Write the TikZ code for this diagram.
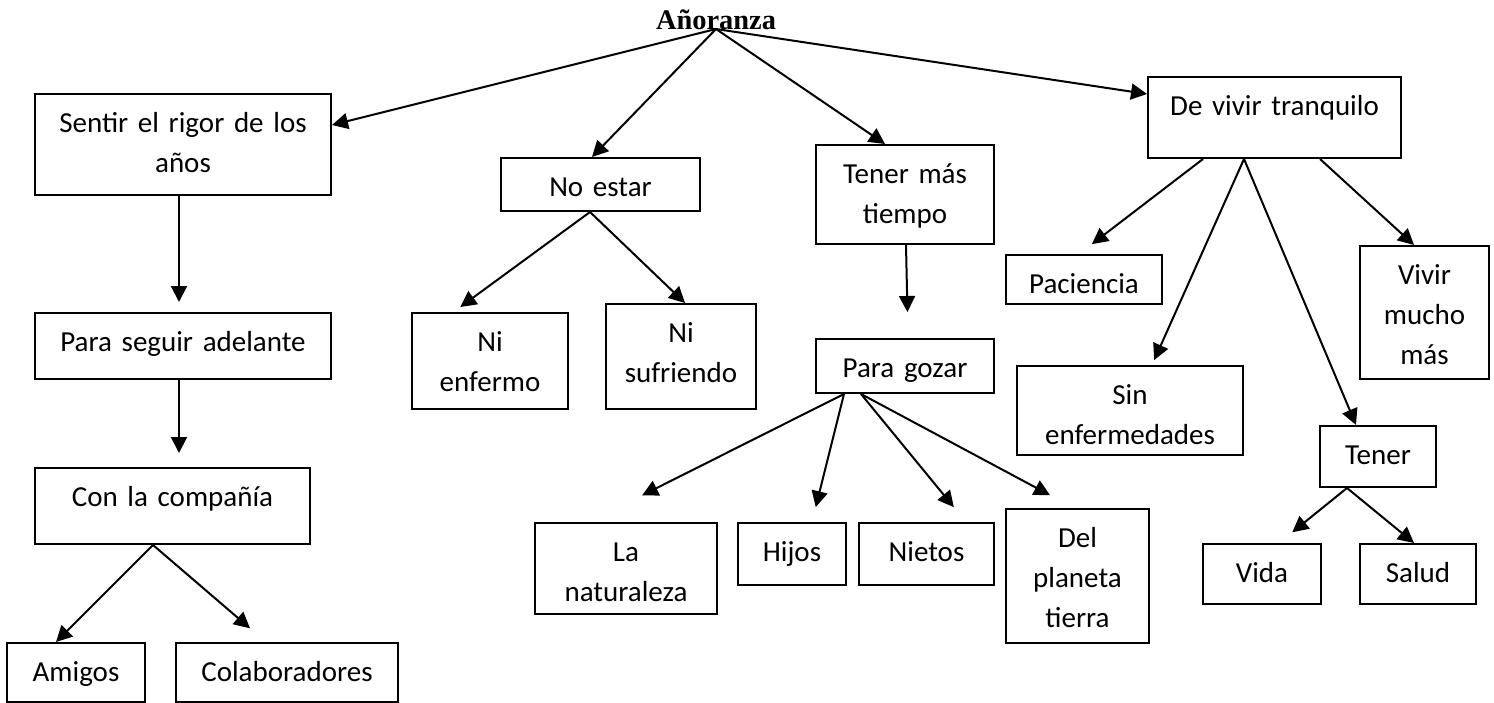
\documentclass[tikz,border=0pt]{standalone}
\usepackage{fontspec}
\setmainfont{Carlito}
\newfontfamily\ttlserif{Liberation Serif}
\usetikzlibrary{arrows.meta,calc}
\newcommand{\bxfont}{\fontsize{14.5pt}{20pt}\selectfont}
\newcommand{\ttlfont}{\ttlserif\bfseries\fontsize{14.2pt}{17pt}\selectfont}
\tikzset{
  bx/.style = {draw, rectangle, inner sep=0pt, anchor=north west,
    align=center, text height=19pt, font=\bxfont},% box, text hung from the top
  sz/.code 2 args = {\pgfmathsetlengthmacro\bxw{#1*0.5pt}%
    \pgfmathsetlengthmacro\bxd{#2*0.5pt-19pt}%
    \pgfkeysalso{/tikz/text width/.expanded=\bxw,
      /tikz/text depth/.expanded=\bxd}},% box size in px
  ttl/.style = {font=\ttlfont, inner sep=0pt, anchor=base}% title
}
\begin{document}
\begin{tikzpicture}[x=0.5pt,y=-0.5pt,line width=1pt,->,>={Triangle[length=8pt,width=8pt]}]
\useasboundingbox (0,0) rectangle (1494,702);
\node [ttl] (root) at (716,29) {Añoranza};
% first row
\node [bx, sz={296}{101}] (sentir) at (34,93) {Sentir el rigor de los\\años};
\node [bx, sz={199}{53}] (noestar) at (500,157) {No estar};
\node [bx, sz={178}{99}] (tenermas) at (815,144) {Tener más\\tiempo};
\node [bx, sz={253}{81}] (devivir) at (1147,76) {De vivir tranquilo};
% left column
\node [bx, sz={296}{66}] (paraseguir) at (34,312) {Para seguir adelante};
\node [bx, sz={275}{76}] (con) at (34,467) {Con la compañía};
\node [bx, sz={138}{59}] (amigos) at (6,642) {Amigos};
\node [bx, sz={222}{59}] (colab) at (175,642) {Colaboradores};
% no estar
\node [bx, sz={156}{96}] (nienf) at (411,312) {Ni\\enfermo};
\node [bx, sz={150}{105}] (nisuf) at (605,303) {Ni\\sufriendo};
% tener mas tiempo
\node [bx, sz={178}{54}] (paragozar) at (815,338) {Para gozar};
\node [bx, sz={182}{91}] (lanat) at (534,522) {La\\naturaleza};
\node [bx, sz={108}{62}] (hijos) at (737,522) {Hijos};
\node [bx, sz={135}{62}] (nietos) at (858,522) {Nietos};
\node [bx, sz={143}{134}] (delplaneta) at (1005,508) {Del\\planeta\\tierra};
% de vivir tranquilo
\node [bx, sz={156}{49}] (paciencia) at (1005,254) {Paciencia};
\node [bx, sz={226}{89}] (sinenf) at (1016,365) {Sin\\enfermedades};
\node [bx, sz={129}{133}] (vivir) at (1359,245) {Vivir\\mucho\\más};
\node [bx, sz={116}{61}] (tener) at (1319,425) {Tener};
\node [bx, sz={118}{60}] (vida) at (1202,543) {Vida};
\node [bx, sz={116}{60}] (salud) at (1359,543) {Salud};

\draw (root.base) -- ($(sentir.east)+(0,-19.5)$);
\draw (root.base) -- ($(noestar.north)+(-8.5,0)$);
\draw (root.base) -- ($(tenermas.north)+(-20,0)$);
\draw (root.base) -- ($(devivir.west)+(0,-23.5)$);

\draw [shorten >=5pt] ($(sentir.south)+(-4,0)$) -- ($(paraseguir.north)+(-4,0)$);
\draw [shorten >=7pt] ($(paraseguir.south)+(-4,0)$) -- ($(con.north)+(6.5,0)$);
\draw ($(con.south)+(-19.5,0)$) -- ($(amigos.north)+(-20,0)$);
\draw [shorten >=10.5pt] ($(con.south)+(-19.5,0)$) -- ($(colab.north)+(-21,0)$);

\draw [shorten >=4.2pt] ($(noestar.south)+(-10.5,0)$) -- ($(nienf.north)+(-36.5,0)$);
\draw ($(noestar.south)+(-10.5,0)$) -- ($(nisuf.north)+(4,0)$);

\draw [shorten >=13pt] ($(tenermas.south)+(1,0)$) -- ($(paragozar.north)+(3,0)$);
\draw [shorten >=29.7pt] ($(paragozar.south)+(-61,0)$) -- ($(lanat.north)+(-37,0)$);
\draw [shorten >=7.7pt] ($(paragozar.south)+(-61,0)$) -- ($(hijos.north)+(20,0)$);
\draw [shorten >=9.6pt] ($(paragozar.south)+(-44,0)$) -- ($(nietos.north)+(39.5,0)$);
\draw [shorten >=13.6pt] ($(paragozar.south)+(-44,0)$) -- ($(delplaneta.north)+(-3.5,0)$);

\draw [shorten >=8.1pt] ($(devivir.south)+(-71.5,0)$) -- ($(paciencia.north)+(-5,0)$);
\draw [shorten >=2.7pt] ($(devivir.south)+(-30.5,0)$) -- ($(sinenf.north)+(22,0)$);
\draw ($(devivir.south)+(-30.5,0)$) -- ($(tener.north)+(-22,0)$);
\draw ($(devivir.south)+(45.5,0)$) -- ($(vivir.north)+(-10.5,0)$);
\draw [shorten >=8.5pt] ($(tener.south)+(-31,0)$) -- ($(vida.north)+(17,0)$);
\draw ($(tener.south)+(-31,0)$) -- ($(salud.north)+(-4,0)$);
\end{tikzpicture}
\end{document}
